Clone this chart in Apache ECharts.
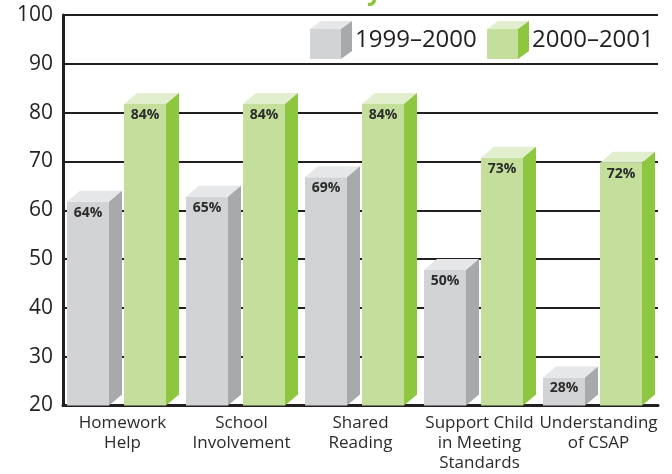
<!DOCTYPE html>
<html>
<head>
<meta charset="utf-8">
<script src="https://cdn.jsdelivr.net/npm/echarts@6/dist/echarts.min.js"></script>
<style>
  html, body { margin: 0; padding: 0; background: #ffffff; }
  #chart { width: 672px; height: 474px; }
</style>
</head>
<body>
<div id="chart"></div>
<script>
// Survey categories and percentages per school year
const categories = [
  'Homework\nHelp',
  'School\nInvolvement',
  'Shared\nReading',
  'Support Child\nin Meeting\nStandards',
  'Understanding\nof CSAP'
];
const seriesNames = ['1999–2000', '2000–2001'];
const values1999 = [64, 65, 69, 50, 28];
const values2000 = [84, 84, 84, 73, 72];
const yTicks = { min: 20, max: 100, step: 10 };

// Face colours of the two block styles: front, side, top
const palettes = [
  { front: '#d1d3d4', side: '#a7a9ac', top: '#e6e7e8' },
  { front: '#c4df9b', side: '#8dc63f', top: '#e2efcf' }
];

const DEPTH_X = 13, DEPTH_Y = 11;

// Builds a 3D-looking block: front face, top face and side face.
function makeRenderer(seriesIdx) {
  const pal = palettes[seriesIdx];
  return function (params, api) {
    const cat = api.value(0);
    const val = api.value(1);
    const band = api.size([1, 0])[0];
    const k = band / 119;
    const center = api.coord([cat, yTicks.min])[0];
    const base = api.coord([cat, yTicks.min])[1];
    const backTop = api.coord([cat, val])[1];
    const w = 42 * k;
    const left = seriesIdx === 0 ? center - 55.5 * k : center + 1.5 * k;
    const ft = backTop + DEPTH_Y;
    const right = left + w;
    return {
      type: 'group',
      children: [
        {
          type: 'rect',
          shape: { x: left, y: ft, width: w, height: base - ft },
          style: { fill: pal.front }
        },
        {
          type: 'polygon',
          shape: { points: [[left, ft], [left + DEPTH_X, ft - DEPTH_Y], [right + DEPTH_X, ft - DEPTH_Y], [right, ft]] },
          style: { fill: pal.top }
        },
        {
          type: 'polygon',
          shape: { points: [[right, ft], [right + DEPTH_X, ft - DEPTH_Y], [right + DEPTH_X, base - DEPTH_Y], [right, base]] },
          style: { fill: pal.side }
        },
        {
          type: 'text',
          style: {
            text: val + '%',
            x: left + w / 2,
            y: ft + 11,
            align: 'center',
            verticalAlign: 'middle',
            fill: '#2b2b2b',
            font: 'bold 14px "Open Sans", sans-serif'
          }
        }
      ]
    };
  };
}

// Legend cube + caption
function legendItem(x, pal, label) {
  const fy = 29, fw = 31, fh = 30, dx = 11, dy = 8;
  return [
    { type: 'rect', shape: { x: x, y: fy, width: fw, height: fh }, style: { fill: pal.front } },
    { type: 'polygon', shape: { points: [[x, fy], [x + dx, fy - dy], [x + fw + dx, fy - dy], [x + fw, fy]] }, style: { fill: pal.top } },
    { type: 'polygon', shape: { points: [[x + fw, fy], [x + fw + dx, fy - dy], [x + fw + dx, fy + fh - dy], [x + fw, fy + fh]] }, style: { fill: pal.side } },
    {
      type: 'text',
      style: {
        text: label, x: x + fw + dx + 3, y: 40,
        verticalAlign: 'middle', fill: '#231f20',
        font: '24px "Open Sans", sans-serif'
      }
    }
  ];
}

const chart = echarts.init(document.getElementById('chart'), null, { renderer: 'canvas' });

chart.setOption({
  backgroundColor: '#ffffff',
  animation: false,
  grid: { left: 63, right: 14, top: 15, bottom: 68.5 },
  xAxis: {
    type: 'category',
    data: categories,
    axisLine: { lineStyle: { color: '#231f20', width: 3 } },
    axisTick: { show: false },
    axisLabel: {
      interval: 0,
      color: '#2b2b2b',
      fontFamily: '"Open Sans", sans-serif',
      fontSize: 17,
      lineHeight: 20,
      margin: 8
    }
  },
  yAxis: {
    type: 'value',
    min: yTicks.min,
    max: yTicks.max,
    interval: yTicks.step,
    axisLine: { show: true, lineStyle: { color: '#231f20', width: 3 } },
    axisTick: { show: false },
    splitLine: { lineStyle: { color: '#231f20', width: 2 } },
    axisLabel: {
      color: '#231f20',
      fontFamily: '"Open Sans", sans-serif',
      fontSize: 21,
      margin: 10
    }
  },
  series: [
    {
      type: 'custom',
      name: seriesNames[0],
      renderItem: makeRenderer(0),
      encode: { x: 0, y: 1 },
      data: values1999.map((v, i) => [i, v]),
      z: 3
    },
    {
      type: 'custom',
      name: seriesNames[1],
      renderItem: makeRenderer(1),
      encode: { x: 0, y: 1 },
      data: values2000.map((v, i) => [i, v]),
      z: 3
    }
  ],
  graphic: [
    {
      type: 'text',
      style: {
        text: 'y', x: 367, y: 6,
        verticalAlign: 'bottom', fill: '#8dc63f',
        font: 'bold 26px "Open Sans", sans-serif'
      }
    },
    { type: 'rect', shape: { x: 300, y: 17, width: 360, height: 44 }, style: { fill: '#ffffff' } },
    ...legendItem(310, palettes[0], seriesNames[0]),
    ...legendItem(487, palettes[1], seriesNames[1])
  ]
});
</script>
</body>
</html>
